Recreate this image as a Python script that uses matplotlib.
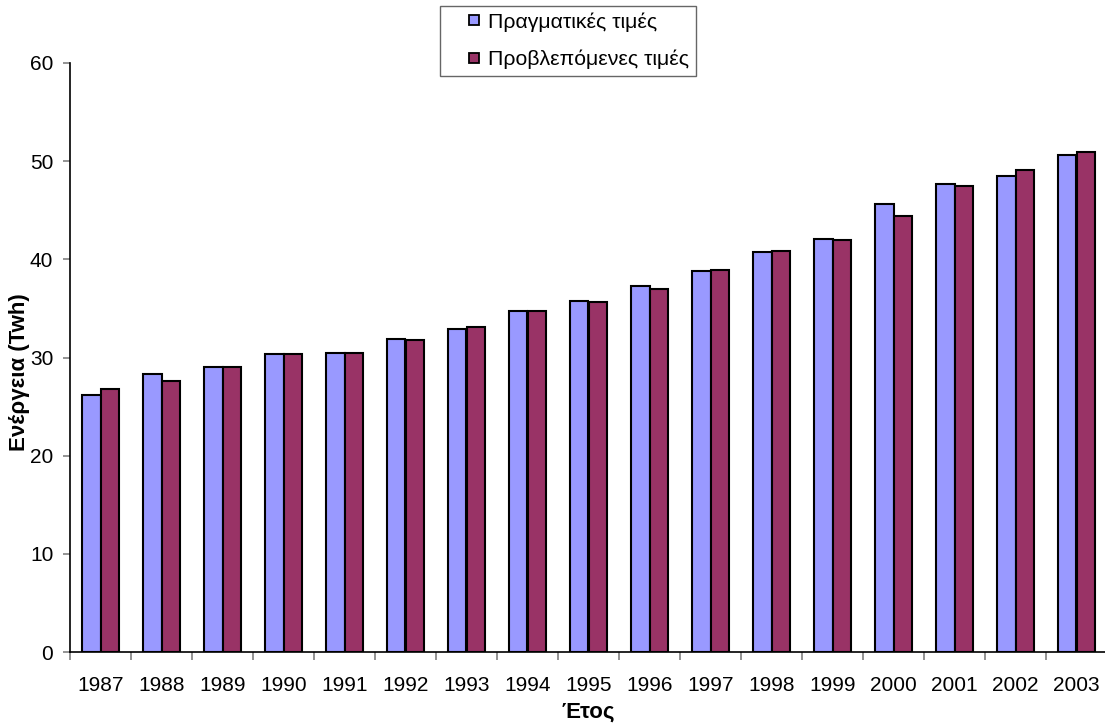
import numpy as np
import matplotlib
matplotlib.use('Agg')
import matplotlib.pyplot as plt
from matplotlib.lines import Line2D
from matplotlib.ticker import MultipleLocator, FixedLocator, NullFormatter

plt.rcParams['font.family'] = ['Liberation Sans', 'DejaVu Sans']

# ----- datos: energía anual, real y prevista -----
etos = ['1987', '1988', '1989', '1990', '1991', '1992', '1993', '1994', '1995',
        '1996', '1997', '1998', '1999', '2000', '2001', '2002', '2003']
pragmatikes = [26.2, 28.3, 29.0, 30.4, 30.5, 31.9, 32.9, 34.7, 35.8,
               37.3, 38.8, 40.7, 42.1, 45.6, 47.7, 48.5, 50.6]
provlepomenes = [26.8, 27.6, 29.0, 30.4, 30.5, 31.8, 33.1, 34.7, 35.7,
                 37.0, 38.9, 40.8, 42.0, 44.4, 47.5, 49.1, 50.9]

azul = '#9999FF'
granate = '#993366'

fig = plt.figure(figsize=(11.05, 7.24), dpi=100)
ax = fig.add_axes([70/1105, 1 - 652/724, 1037/1105, (652 - 63)/724])

x = np.arange(len(etos))
w = 0.3
ax.bar(x - w/2, pragmatikes, w, color=azul, edgecolor='black', linewidth=1.5)
ax.bar(x + w/2, provlepomenes, w, color=granate, edgecolor='black', linewidth=1.5)

ax.set_xlim(-0.5, len(etos) - 0.5)
ax.set_ylim(0, 60)

ax.spines['top'].set_visible(False)
ax.spines['right'].set_visible(False)
ax.spines['left'].set_linewidth(1.2)
ax.spines['bottom'].set_linewidth(1.2)

ax.yaxis.set_major_locator(MultipleLocator(10))
ax.tick_params(axis='y', direction='out', length=5, width=1.2, color='#808080',
               labelsize=15, pad=7)

# etiquetas de año centradas, marcas entre categorías
ax.set_xticks(x)
ax.set_xticklabels(etos)
ax.xaxis.set_minor_locator(FixedLocator(np.arange(-0.5, len(etos), 1.0)))
ax.xaxis.set_minor_formatter(NullFormatter())
ax.tick_params(axis='x', which='major', length=0, labelsize=15, pad=17)
ax.tick_params(axis='x', which='minor', direction='out', length=6, width=1.2,
               color='#808080')

fig.text(20/1105, 1 - 372/724, 'Ενέργεια (Twh)', rotation=90, ha='center',
         va='center', fontsize=16, fontweight='bold')
fig.text(588/1105, 1 - 712/724, 'Έτος', ha='center', va='center',
         fontsize=16, fontweight='bold')

handles = [Line2D([], [], linestyle='none', marker='s', markersize=7,
                  markerfacecolor=azul, markeredgecolor='black', markeredgewidth=1.3),
           Line2D([], [], linestyle='none', marker='s', markersize=7,
                  markerfacecolor=granate, markeredgecolor='black', markeredgewidth=1.3)]
leg = fig.legend(handles, ['Πραγματικές τιμές', 'Προβλεπόμενες τιμές'],
                 loc='upper center', bbox_to_anchor=(568/1105, 1 - 6/724),
                 fontsize=15.3, frameon=True, fancybox=False, shadow=False,
                 handlelength=2.6, handletextpad=-0.65,
                 labelspacing=0.85, borderpad=0.3, borderaxespad=0)
leg.get_frame().set_edgecolor('#404040')
leg.get_frame().set_linewidth(1.0)

fig.savefig('out.png', dpi=100)
